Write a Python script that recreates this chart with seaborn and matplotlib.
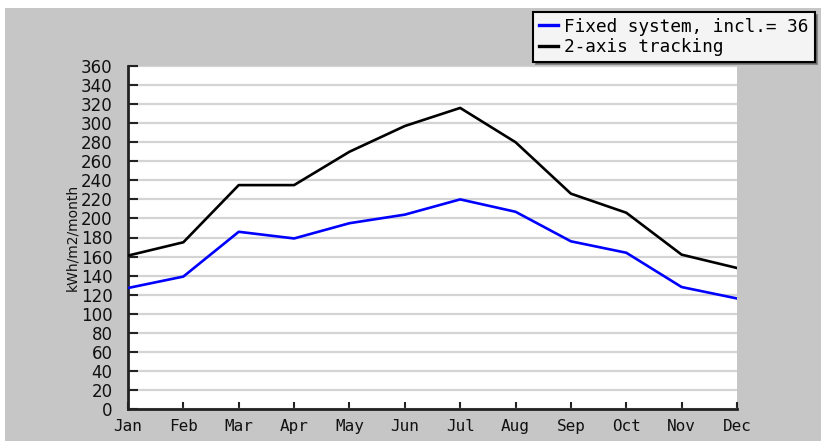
import matplotlib
matplotlib.use("Agg")
import matplotlib.pyplot as plt
from matplotlib.patches import Rectangle
from matplotlib.lines import Line2D
import pandas as pd
import seaborn as sns

months = ["Jan", "Feb", "Mar", "Apr", "May", "Jun", "Jul", "Aug", "Sep", "Oct", "Nov", "Dec"]
fixed_system = [127, 139, 186, 179, 195, 204, 220, 207, 176, 164, 128, 116]
two_axis_tracking = [161, 175, 235, 235, 270, 297, 316, 280, 226, 206, 162, 148]
series_names = ["Fixed system, incl.= 36", "2-axis tracking"]
y_ticks = list(range(0, 361, 20))

df = pd.DataFrame({
    "month": list(range(len(months))) * 2,
    "value": fixed_system + two_axis_tracking,
    "series": [series_names[0]] * len(months) + [series_names[1]] * len(months),
})

W, H = 821, 441
fig = plt.figure(figsize=(W / 100, H / 100), dpi=100, facecolor="white")
# grey panel behind the chart
fig.patches.append(Rectangle((5 / W, 0), 1, 1 - 8 / H, transform=fig.transFigure,
                             facecolor="#c6c6c6", edgecolor="none", zorder=-10))

ax = fig.add_axes([128 / W, 1 - 409 / H, (737 - 128) / W, (409 - 66) / H])
ax.set_facecolor("white")

palette = {series_names[0]: "#0000ff", series_names[1]: "#000000"}
sns.lineplot(data=df, x="month", y="value", hue="series", palette=palette,
             linewidth=1.9, ax=ax, legend=False, zorder=3)

ax.set_xlim(0, len(months) - 1)
ax.set_ylim(0, 360)
ax.set_yticks(y_ticks)
ax.set_yticklabels([str(v) for v in y_ticks], fontsize=12, family="DejaVu Sans", color="#111111")
ax.set_xticks(range(len(months)))
ax.set_xticklabels(months, fontsize=11.5, family="DejaVu Sans Mono", color="#111111")
ax.yaxis.grid(True, color="#d4d4d4", linewidth=1.6, zorder=1)
ax.xaxis.grid(False)
ax.set_axisbelow(True)
ax.tick_params(axis="y", direction="in", length=7, width=1.5, pad=11, color="#222222")
ax.tick_params(axis="x", direction="in", length=5, width=1.5, pad=7, color="#222222")
for s in ["top", "right"]:
    ax.spines[s].set_visible(False)
for s in ["left", "bottom"]:
    ax.spines[s].set_linewidth(2)
    ax.spines[s].set_color("#222222")
ax.set_xlabel("")
ax.set_ylabel("kWh/m2/month", fontsize=10, family="DejaVu Sans", color="#111111", labelpad=1)

handles = [Line2D([], [], color=palette[n], linewidth=2.4) for n in series_names]
leg = fig.legend(handles, series_names, loc="upper left",
                 bbox_to_anchor=(533 / W, 1 - 12 / H), bbox_transform=fig.transFigure,
                 prop={"family": "DejaVu Sans Mono", "size": 12.8},
                 handlelength=1.1, handletextpad=0.35, labelspacing=0.12,
                 borderpad=0.32, borderaxespad=0, fancybox=False, shadow=True,
                 frameon=True)
leg.get_frame().set_facecolor("#f4f4f4")
leg.get_frame().set_edgecolor("#000000")
leg.get_frame().set_linewidth(1.5)

fig.savefig("out.png", dpi=100, facecolor=fig.get_facecolor())
